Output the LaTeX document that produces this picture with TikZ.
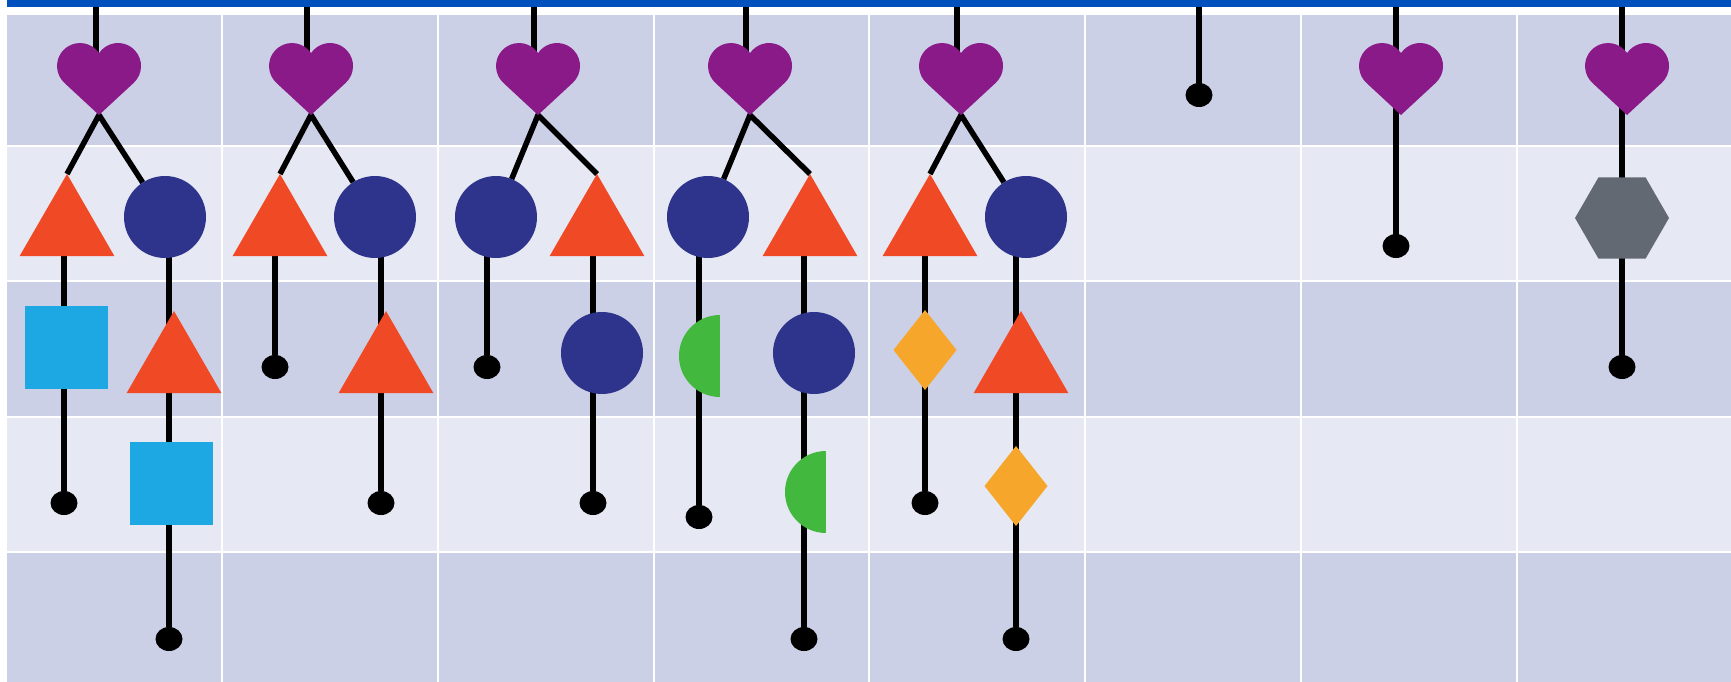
\documentclass[tikz,border=0pt]{standalone}
\usepackage{tikz}
\usetikzlibrary{shapes.geometric,calc}

\definecolor{barblue}{HTML}{0050BE}
\definecolor{celldark}{HTML}{CBD0E6}
\definecolor{celllight}{HTML}{E6E9F3}
\definecolor{heartc}{HTML}{8B1A89}
\definecolor{trired}{HTML}{F04925}
\definecolor{navy}{HTML}{2E338C}
\definecolor{sqblue}{HTML}{1DA7E3}
\definecolor{leafgreen}{HTML}{42B83E}
\definecolor{amber}{HTML}{F6A62A}
\definecolor{hexgray}{HTML}{636972}

\pgfdeclarelayer{bg}
\pgfdeclarelayer{wires}
\pgfsetlayers{bg,wires,main}

\tikzset{
  shapebase/.style={inner sep=0pt, outer sep=0pt},
  heart/.style={shapebase, minimum width=84pt, minimum height=72pt,
    path picture={\fill[heartc, shift={(path picture bounding box.center)}]
      (0pt,-36pt) -- (34.66pt,-3.91pt)
      arc[start angle=-47.2, end angle=145.7, radius=23pt]
      arc[start angle=34.3, end angle=227.2, radius=23pt] -- cycle;}},
  tri/.style={shapebase, regular polygon, regular polygon sides=3, minimum size=109.6pt, fill=trired},
  disc/.style={shapebase, circle, minimum size=82pt, fill=navy},
  sq/.style={shapebase, rectangle, minimum size=83pt, fill=sqblue},
  halfd/.style={shapebase, circle, minimum size=82pt,
    path picture={\fill[leafgreen] (path picture bounding box.north west) rectangle (path picture bounding box.south);}},
  gem/.style={shapebase, diamond, minimum width=63pt, minimum height=80pt, fill=amber},
  hexa/.style={shapebase, regular polygon, regular polygon sides=6, minimum size=94pt, fill=hexgray},
  stub/.style={shapebase, ellipse, minimum width=27pt, minimum height=24pt, fill=black},
  wire/.style={line width=5.5pt, black},
}

\begin{document}
\begin{tikzpicture}[x=1pt,y=-1pt]
  \useasboundingbox (0,0) rectangle (1731,682);

  % grid of cells
  \begin{pgfonlayer}{bg}
    \fill[white] (0,0) rectangle (1731,682);
    \fill[barblue] (7,0) rectangle (1731,7);
    \foreach \ya/\yb/\cc in {15/145/celldark,147/280/celllight,282/416/celldark,418/551/celllight,553/682/celldark}
      \foreach \i in {0,...,7}
        \fill[\cc] ({7+215.86*\i},\ya) rectangle ({min(1731,5+215.86*(\i+1))},\yb);
  \end{pgfonlayer}

  % column 1
  \coordinate (top1) at (96,7);
  \node[heart] (h1) at (99,79) {};
  \node[tri] (t1a) at (67,228.8) {};
  \node[sq] (s1a) at (66,347) {};
  \node[stub] (d1a) at (64,503) {};
  \node[disc] (c1b) at (165,217) {};
  \node[tri] (t1b) at (174,365.8) {};
  \node[sq] (s1b) at (171,483) {};
  \node[stub] (d1b) at (169,639) {};

  % column 2
  \coordinate (top2) at (307,7);
  \node[heart] (h2) at (311,79) {};
  \node[tri] (t2a) at (280,228.8) {};
  \node[stub] (d2a) at (275,367) {};
  \node[disc] (c2b) at (375,217) {};
  \node[tri] (t2b) at (386,365.8) {};
  \node[stub] (d2b) at (381,503) {};

  % column 3
  \coordinate (top3) at (534,7);
  \node[heart] (h3) at (538,79) {};
  \node[disc] (c3a) at (496,217) {};
  \node[stub] (d3a) at (487,367) {};
  \node[tri] (t3b) at (597,228.8) {};
  \node[disc] (c3c) at (602,353) {};
  \node[stub] (d3b) at (593,503) {};

  % column 4
  \coordinate (top4) at (746,7);
  \node[heart] (h4) at (750,79) {};
  \node[disc] (c4a) at (708,217) {};
  \node[halfd] (g4a) at (720,356) {};
  \node[stub] (d4a) at (699,517) {};
  \node[tri] (t4b) at (810,228.8) {};
  \node[disc] (c4c) at (814,353) {};
  \node[halfd] (g4b) at (826,492) {};
  \node[stub] (d4b) at (804,639) {};

  % column 5
  \coordinate (top5) at (957,7);
  \node[heart] (h5) at (961,79) {};
  \node[tri] (t5a) at (930,228.8) {};
  \node[gem] (k5a) at (925,350) {};
  \node[stub] (d5a) at (925,503) {};
  \node[disc] (c5b) at (1026,217) {};
  \node[tri] (t5b) at (1021,365.8) {};
  \node[gem] (k5b) at (1016,486) {};
  \node[stub] (d5b) at (1016,639) {};

  % columns 6 to 8
  \coordinate (top6) at (1199,7);
  \node[stub] (d6) at (1199,95) {};
  \coordinate (top7) at (1396,7);
  \node[heart] (h7) at (1401,79) {};
  \node[stub] (d7) at (1396,246) {};
  \coordinate (top8) at (1622,7);
  \node[heart] (h8) at (1627,79) {};
  \node[hexa] (x8) at (1622,218) {};
  \node[stub] (d8) at (1622,367) {};

  % wires
  \begin{pgfonlayer}{wires}
    \foreach \n in {1,...,5}
      \draw[wire] (top\n) -- (top\n |- h\n);
    \draw[wire] (t1a.corner 1) -- (h1.south) -- (c1b);
    \draw[wire] (t2a.corner 1) -- (h2.south) -- (c2b);
    \draw[wire] (c3a) -- (h3.south) -- (t3b.corner 1);
    \draw[wire] (c4a) -- (h4.south) -- (t4b.corner 1);
    \draw[wire] (t5a.corner 1) -- (h5.south) -- (c5b);
    \draw[wire] (d1a |- t1a) -- (d1a);
    \draw[wire] (d1b |- c1b) -- (d1b);
    \draw[wire] (d2a |- t2a) -- (d2a);
    \draw[wire] (d2b |- c2b) -- (d2b);
    \draw[wire] (d3a |- c3a) -- (d3a);
    \draw[wire] (d3b |- t3b) -- (d3b);
    \draw[wire] (d4a |- c4a) -- (d4a);
    \draw[wire] (d4b |- t4b) -- (d4b);
    \draw[wire] (d5a |- t5a) -- (d5a);
    \draw[wire] (d5b |- c5b) -- (d5b);
    \draw[wire] (top6) -- (d6);
    \draw[wire] (top7) -- (d7);
    \draw[wire] (top8) -- (d8);
  \end{pgfonlayer}
\end{tikzpicture}
\end{document}
